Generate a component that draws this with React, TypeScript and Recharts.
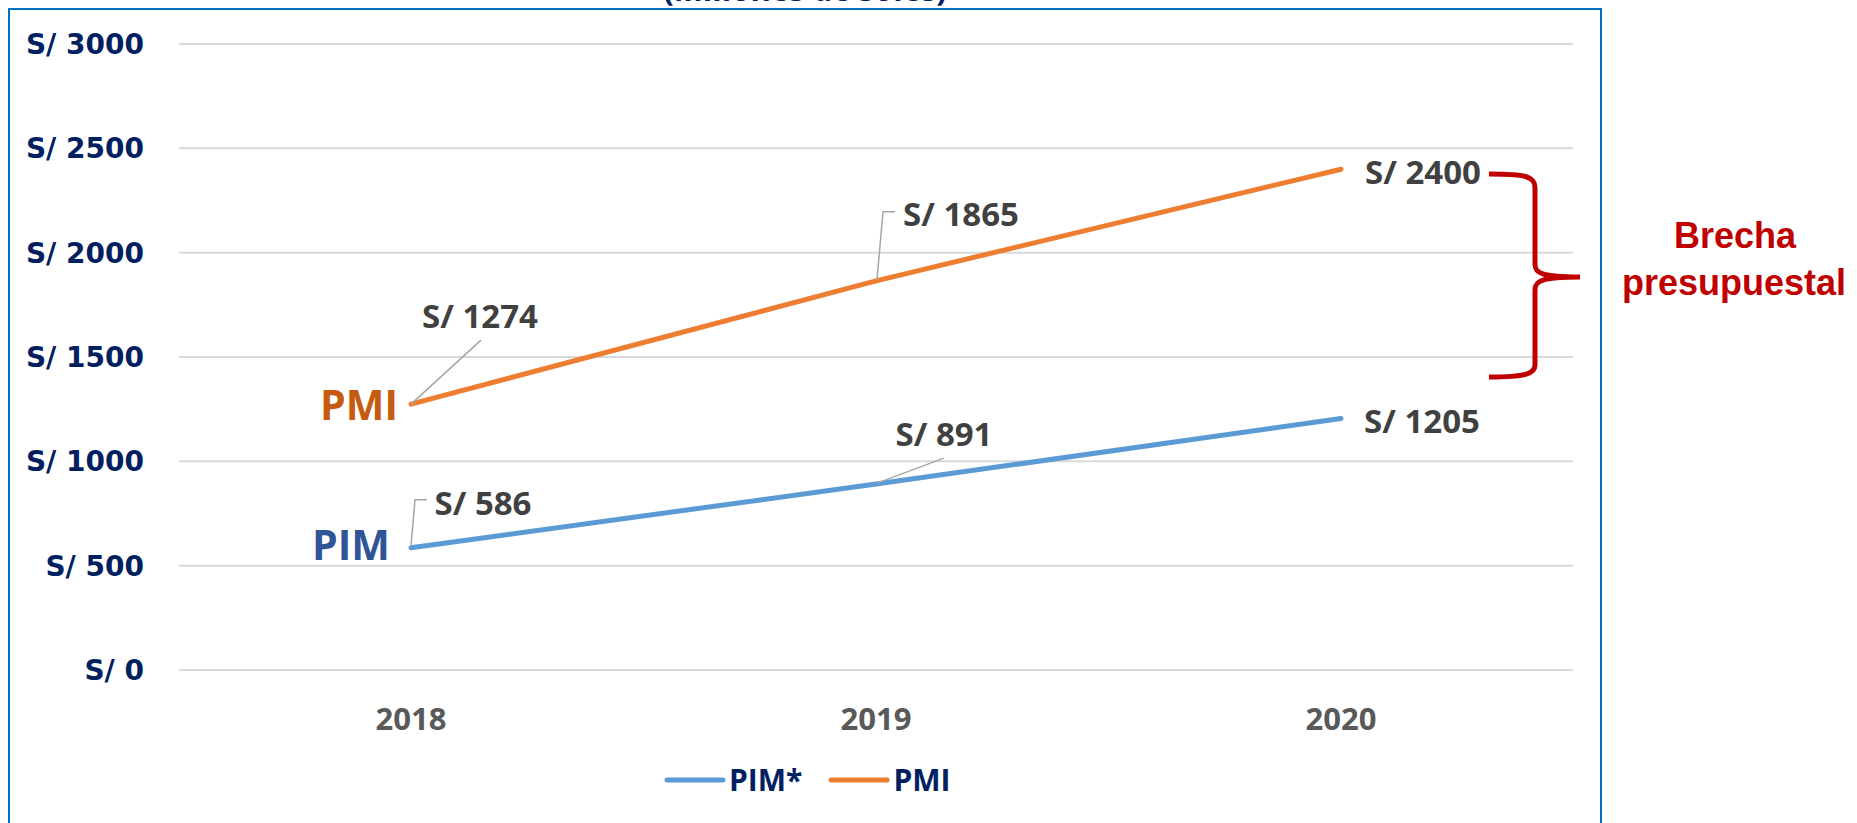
import { LineChart, Line, XAxis, YAxis, CartesianGrid, Legend, LabelList } from 'recharts';

const years = ['2018', '2019', '2020'];
const pimValues = [586, 891, 1205];
const pmiValues = [1274, 1865, 2400];
const yTicks = [0, 500, 1000, 1500, 2000, 2500, 3000];
const seriesNames = { pim: 'PIM*', pmi: 'PMI' };
const lineTags = { pim: 'PIM', pmi: 'PMI' };

const data = years.map((year, i) => ({ year, pim: pimValues[i], pmi: pmiValues[i] }));

const BLUE = '#5B9BD5';
const ORANGE = '#ED7D31';
const NAVY = '#002060';
const LABEL_FONT = '"Open Sans", sans-serif';

// where each value label sits relative to its point (text baseline, centre) and its leader line
const pmiLabelPos = [
  { dx: 69, dy: -76, leader: [[0, 0], [70, -64]] },
  { dx: 85, dy: -55, leader: [[1, -1], [7, -69], [19, -69]] },
  { dx: 82, dy: 15, leader: null },
];
const pimLabelPos = [
  { dx: 72, dy: -33, leader: [[0, -2], [4, -48], [16, -48]] },
  { dx: 68, dy: -38, leader: [[1, -1], [68, -26]] },
  { dx: 81, dy: 14, leader: null },
];

function makeLabel(pos: any[], tag: string, tagColor: string, tagDx: number, tagDy: number) {
  return (props: any) => {
    const { x, y, value, index } = props;
    const p = pos[index];
    if (!p) return null;
    return (
      <g>
        {p.leader && (
          <polyline
            points={p.leader.map(([a, b]: number[]) => `${x + a},${y + b}`).join(' ')}
            fill="none"
            stroke="#A6A6A6"
            strokeWidth={1.5}
          />
        )}
        <text
          x={x + p.dx}
          y={y + p.dy}
          textAnchor="middle"
          fill="#404040"
          fontSize={33}
          fontWeight={700}
          fontFamily={LABEL_FONT}
        >
          {`S/ ${value}`}
        </text>
        {index === 0 && (
          <text
            x={x + tagDx}
            y={y + tagDy}
            textAnchor="end"
            fill={tagColor}
            fontSize={41}
            fontWeight={700}
            fontFamily={LABEL_FONT}
          >
            {tag}
          </text>
        )}
      </g>
    );
  };
}

function LegendContent() {
  const items = [
    { key: 'pim', color: BLUE },
    { key: 'pmi', color: ORANGE },
  ];
  return (
    <div style={{ display: 'flex', alignItems: 'center', fontFamily: LABEL_FONT }}>
      {items.map((it, i) => (
        <div key={it.key} style={{ display: 'flex', alignItems: 'center', marginLeft: i ? 26 : 0 }}>
          <svg width={62} height={8}>
            <line x1={3} y1={4} x2={59} y2={4} stroke={it.color} strokeWidth={5} strokeLinecap="round" />
          </svg>
          <span style={{ color: NAVY, fontSize: 30, fontWeight: 700, marginLeft: 3, lineHeight: '34px' }}>
            {seriesNames[it.key as 'pim' | 'pmi']}
          </span>
        </div>
      ))}
    </div>
  );
}

export default function App() {
  return (
    <div style={{ position: 'fixed', left: 0, top: 0, width: 1857, height: 823, background: '#fff', overflow: 'hidden' }}>
      <div
        style={{
          position: 'absolute',
          left: 8,
          top: 8,
          width: 1590,
          height: 900,
          border: '2px solid #0070C0',
        }}
      />
      <div style={{ position: 'absolute', left: 0, top: 0 }}>
        <LineChart width={1857} height={823} data={data} margin={{ top: 44, right: 284, left: 0, bottom: 123 }}>
          <CartesianGrid vertical={false} stroke="#D9D9D9" strokeWidth={2} />
          <XAxis
            dataKey="year"
            height={30}
            padding={{ left: 232, right: 232 }}
            axisLine={false}
            tickLine={false}
            tickSize={0}
            tickMargin={38}
            tick={{ fill: '#595959', fontSize: 31, fontWeight: 700, fontFamily: LABEL_FONT }}
          />
          <YAxis
            width={179}
            domain={[0, 3000]}
            ticks={yTicks}
            axisLine={false}
            tickLine={false}
            tickSize={0}
            tickMargin={35}
            tickFormatter={(v) => `S/ ${v}`}
            tick={{ fill: NAVY, fontSize: 28, fontWeight: 700, fontFamily: '"DejaVu Sans", sans-serif' }}
          />
          <Legend
            layout="horizontal"
            verticalAlign="middle"
            align="center"
            content={<LegendContent />}
            wrapperStyle={{ top: 763, left: 664, width: 330 }}
          />
          <Line
            dataKey="pim"
            name={seriesNames.pim}
            stroke={BLUE}
            strokeWidth={5}
            strokeLinecap="round"
            dot={false}
            isAnimationActive={false}
          >
            <LabelList dataKey="pim" content={makeLabel(pimLabelPos, lineTags.pim, '#2F5597', -21, 12)} />
          </Line>
          <Line
            dataKey="pmi"
            name={seriesNames.pmi}
            stroke={ORANGE}
            strokeWidth={5}
            strokeLinecap="round"
            dot={false}
            isAnimationActive={false}
          >
            <LabelList dataKey="pmi" content={makeLabel(pmiLabelPos, lineTags.pmi, '#C55A11', -13, 16)} />
          </Line>
        </LineChart>
      </div>
      <svg
        width={1857}
        height={823}
        style={{ position: 'absolute', left: 0, top: 0, pointerEvents: 'none' }}
      >
        <text x={805} y={1} textAnchor="middle" fill={NAVY} fontSize={31} fontWeight={700} fontFamily={LABEL_FONT}>
          (Millones de soles)
        </text>
        <path
          d="M1489,174 C1525,174 1535,176 1535,188 L1535,264 C1535,273 1541,277 1580,277 C1541,277 1535,281 1535,290 L1535,365 C1535,374 1525,377 1489,377"
          fill="none"
          stroke="#C00000"
          strokeWidth={5}
        />
        <g fill="#C00000" fontSize={36} fontWeight={700} fontFamily='"Liberation Sans", Arial, sans-serif' textAnchor="middle">
          <text x={1735} y={248}>Brecha</text>
          <text x={1734} y={295}>presupuestal</text>
        </g>
      </svg>
    </div>
  );
}
